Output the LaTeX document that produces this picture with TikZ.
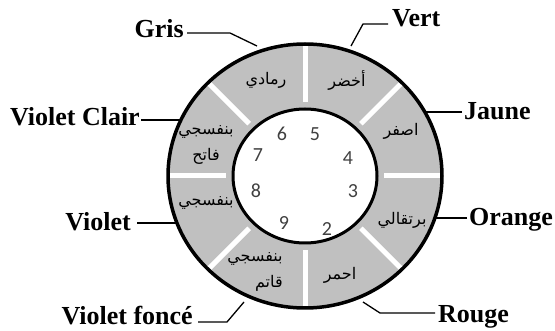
\documentclass[tikz,border=0pt]{standalone}
\usepackage{fontspec}
\setmainfont{Liberation Serif}
\newfontfamily\arabicfont[Script=Arabic]{DejaVu Sans}
\newfontfamily\numfont{Carlito}
\TeXXeTstate=1
\usetikzlibrary{calc}
\definecolor{ringgray}{HTML}{C0C0C0}
\definecolor{numgray}{HTML}{404040}
\begin{document}
\begin{tikzpicture}[x=1pt,y=-1pt,
  lab/.style={font=\fontsize{26}{30}\selectfont\bfseries, inner sep=0pt},
  ar/.style={font=\arabicfont\fontsize{16}{26}\selectfont, inner sep=0pt, align=right},
  num/.style={font=\numfont\fontsize{20}{24}\selectfont, text=numgray, inner sep=0pt},
  conn/.style={line width=1.3pt, black},
  divider/.style={white, line width=5pt}
]
\useasboundingbox (0,0) rectangle (555,331);
\coordinate (c) at (305,176);
% ring
\fill[ringgray, even odd rule] (c) ellipse [x radius=137pt, y radius=132pt]
                               (c) ellipse [x radius=72pt, y radius=67pt];
\fill[white] (c) ellipse [x radius=72pt, y radius=67pt];
\foreach \a in {0,45,...,315}
  \draw[divider] ($(c)+({79*cos(\a)},{-74*sin(\a)})$) -- ($(c)+({136*cos(\a)},{-131*sin(\a)})$);
\draw[line width=3.5pt] (c) ellipse [x radius=137pt, y radius=132pt];
\draw[line width=3pt] (c) ellipse [x radius=72pt, y radius=67pt];

% numbers
\node[num] (n5) at (315,134) {5};
\node[num] (n6) at (282,134) {6};
\node[num] (n7) at (258,155) {7};
\node[num] (n4) at (348,158) {4};
\node[num] (n8) at (256,191) {8};
\node[num] (n3) at (353,191) {3};
\node[num] (n9) at (284,223) {9};
\node[num] (n2) at (327,229) {2};

% arabic names
\node[ar] (arGris) at (266,80) {\beginR رمادي\endR};
\node[ar] (arVert) at (347,80) {\beginR أخضر\endR};
\node[ar] (arJaune) at (401,131) {\beginR اصفر\endR};
\node[ar] (arOrange) at (402,220) {\beginR برتقالي\endR};
\node[ar] (arRouge) at (340,275) {\beginR احمر\endR};
\node[ar] (arVfonce) at (255,272) {\beginR بنفسجي\endR\\\beginR قاتم\endR};
\node[ar] (arViolet) at (206,203) {\beginR بنفسجي\endR};
\node[ar, align=center] (arVclair) at (206,145) {\beginR بنفسجي\endR\\\beginR فاتح\endR};

% french labels
\node[lab, anchor=base east] (gris) at (184,38) {Gris};
\node[lab, anchor=base west] (vert) at (392,27) {Vert};
\node[lab, anchor=base west] (jaune) at (464,120) {Jaune};
\node[lab, anchor=base west] (orange) at (469,226) {Orange};
\node[lab, anchor=base west] (rouge) at (438,323) {Rouge};
\node[lab, anchor=base east] (vclair) at (140,126) {Violet Clair};
\node[lab, anchor=base east] (violet) at (131,231) {Violet};
\node[lab, anchor=base east] (vfonce) at (193,325) {Violet foncé};

% connector points
\coordinate (grisS) at ([xshift=3pt,yshift=5pt]gris.base east);
\coordinate (grisB) at (230,33);
\coordinate (grisE) at (257,46);
\coordinate (vertS) at ([xshift=-4pt,yshift=3pt]vert.base west);
\coordinate (vertB) at (363,24);
\coordinate (vertE) at (351,46);
\coordinate (jauneS) at ([xshift=-2pt,yshift=8pt]jaune.base west);
\coordinate (jauneE) at (424,112);
\coordinate (orangeS) at ([xshift=-2pt,yshift=8pt]orange.base west);
\coordinate (orangeE) at (434,218);
\coordinate (rougeS) at ([xshift=-3pt,yshift=10pt]rouge.base west);
\coordinate (rougeB) at (380,313);
\coordinate (rougeE) at (363,302);
\coordinate (vclairS) at ([xshift=1pt,yshift=6pt]vclair.base east);
\coordinate (vclairE) at (180,120);
\coordinate (violetS) at ([xshift=6pt,yshift=8pt]violet.base east);
\coordinate (violetE) at (176,223);
\coordinate (vfonceS) at ([xshift=5pt,yshift=3pt]vfonce.base east);
\coordinate (vfonceB) at (227,322);
\coordinate (vfonceE) at (244,302);

\draw[conn] (grisS) -- (grisB) -- (grisE);
\draw[conn] (vertS) -- (vertB) -- (vertE);
\draw[conn] (jauneS) -- (jauneE);
\draw[conn] (orangeS) -- (orangeE);
\draw[conn] (rougeS) -- (rougeB) -- (rougeE);
\draw[conn] (vclairS) -- (vclairE);
\draw[conn] (violetS) -- (violetE);
\draw[conn] (vfonceS) -- (vfonceB) -- (vfonceE);
\end{tikzpicture}
\end{document}
